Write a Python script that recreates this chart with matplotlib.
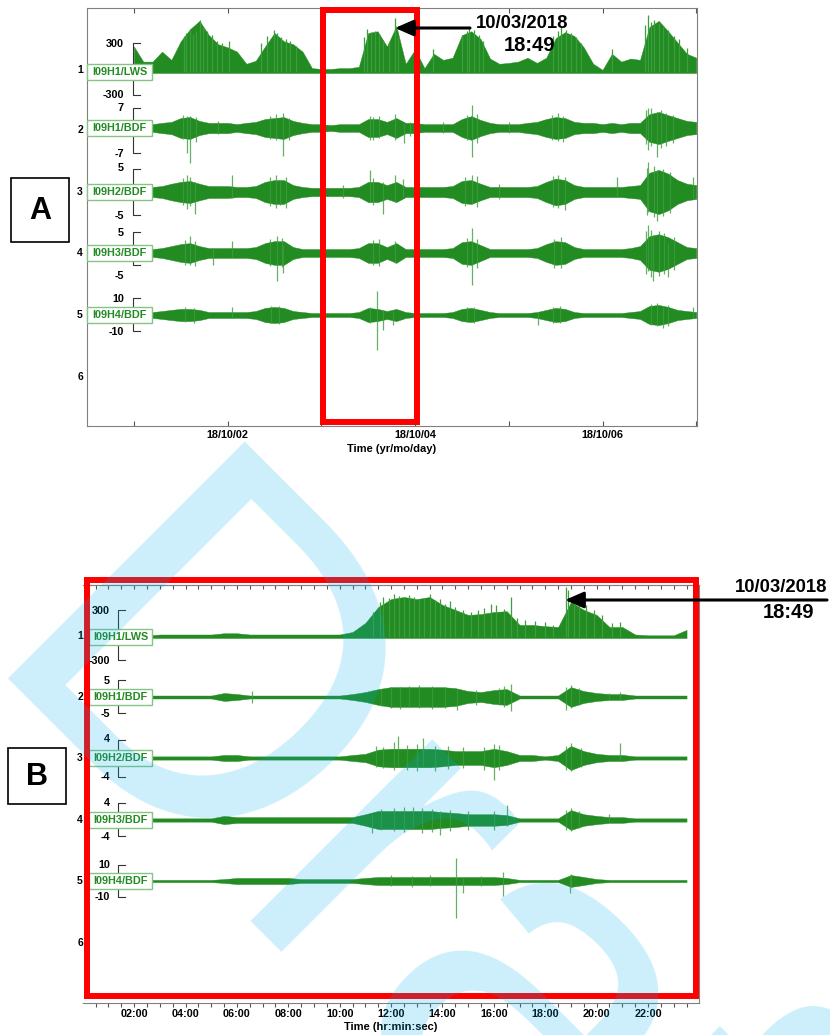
import numpy as np
import matplotlib
matplotlib.use("Agg")
import matplotlib.pyplot as plt
from matplotlib.patches import Rectangle

plt.rcParams['font.family'] = ['Liberation Sans', 'DejaVu Sans']

GREEN = '#228b22'
HAIR = '#3c9e3c'

# ---------------- panel A : days since 2018-10-01 00:00 ----------------
t_a = np.round(np.arange(0, 6.05, 0.1), 1)   # sampling grid of the envelopes

lws_a = [295, 120, 120, 235, 140, 355, 495, 590, 425, 320,
         285, 235, 95, 130, 295, 450, 355, 320, 235, 45,
         35, 35, 45, 45, 60, 450, 470, 295, 530, 95,
         260, 45, 210, 140, 165, 425, 470, 380, 155, 95,
         105, 120, 165, 105, 165, 390, 460, 415, 285, 95,
         25, 210, 120, 155, 140, 520, 590, 470, 340, 210, 165]
h1_a = [1.2, 1.2, 1.2, 1.6, 1.9, 3.1, 3.4, 2.2, 1.6, 1.6,
        1.6, 1.2, 1.6, 1.9, 2.8, 3.1, 3.4, 2.2, 1.6, 1.2,
        1.2, 0.9, 1.2, 1.2, 1.2, 2.8, 2.8, 1.9, 3.1, 1.6,
        1.6, 1.2, 1.2, 1.2, 1.2, 2.8, 3.7, 2.5, 1.6, 1.2,
        1.2, 1.2, 1.6, 1.9, 2.8, 3.4, 3.1, 1.9, 1.6, 1.6,
        1.2, 1.6, 1.2, 1.6, 1.6, 4.3, 5.0, 4.0, 3.1, 2.2, 1.9]
h2_a = [1.1, 1.1, 1.1, 1.3, 1.8, 2.2, 2.4, 1.8, 1.3, 1.3,
        1.3, 1.1, 1.1, 1.3, 2.2, 2.6, 2.6, 1.5, 1.1, 0.9,
        0.9, 0.9, 0.9, 0.9, 1.1, 2.2, 2.2, 1.5, 2.2, 1.1,
        1.1, 1.1, 1.1, 1.1, 1.3, 2.4, 2.6, 1.8, 1.1, 1.1,
        1.1, 1.1, 1.1, 1.3, 2.2, 2.9, 2.6, 1.5, 1.1, 1.1,
        1.1, 1.1, 1.1, 1.3, 1.5, 4.2, 4.8, 4.0, 2.6, 1.8, 1.5]
h3_a = [1.2, 1.2, 1.2, 1.5, 2.1, 2.7, 3.0, 2.1, 1.5, 1.5,
        1.5, 1.5, 1.5, 1.8, 3.0, 3.6, 3.6, 1.8, 1.2, 1.2,
        1.2, 1.2, 1.2, 1.2, 1.5, 3.0, 3.0, 1.8, 3.0, 1.2,
        1.2, 1.2, 1.2, 1.2, 1.5, 3.3, 3.6, 2.4, 1.2, 1.2,
        1.2, 1.2, 1.2, 1.5, 2.7, 3.6, 3.3, 1.8, 1.2, 1.2,
        1.2, 1.2, 1.2, 1.5, 2.1, 5.1, 5.7, 4.8, 3.3, 1.8, 1.5]
h4_a = [1.8, 1.8, 1.8, 2.4, 3.1, 3.7, 3.7, 3.1, 1.8, 1.8,
        1.8, 1.8, 1.8, 2.4, 4.3, 4.9, 4.3, 2.4, 1.8, 1.2,
        1.2, 1.2, 1.2, 1.2, 1.8, 4.3, 3.7, 2.4, 3.7, 1.8,
        1.2, 1.2, 1.2, 1.2, 1.8, 3.7, 4.3, 3.1, 1.8, 1.2,
        1.2, 1.2, 1.2, 1.8, 3.1, 4.3, 3.7, 1.8, 1.2, 1.2,
        1.2, 1.2, 1.2, 1.8, 2.4, 5.5, 6.1, 4.9, 3.1, 2.4, 1.8]

# spikes: (time, peak) for LWS, (time, up, down) for BDF
spk_lws_a = [(0.53, 410), (0.56, 450), (0.60, 495), (0.63, 435), (0.66, 470), (0.71, 600),
             (0.74, 520), (0.78, 470), (0.83, 425), (0.89, 355), (0.94, 330), (1.01, 355),
             (1.36, 330), (1.42, 410), (1.49, 480), (1.53, 450), (1.57, 400), (1.62, 380),
             (1.67, 355), (1.73, 300), (2.46, 400), (2.49, 500), (2.53, 460), (2.57, 470),
             (2.62, 430), (2.66, 360), (2.72, 330), (2.79, 625), (2.82, 400), (3.00, 270),
             (3.19, 260), (3.50, 430), (3.55, 470), (3.58, 510), (3.63, 480), (3.68, 430),
             (3.73, 360), (4.47, 420), (4.52, 470), (4.56, 530), (4.61, 490), (4.66, 450),
             (4.72, 400), (4.77, 330), (5.10, 260), (5.45, 540), (5.48, 660), (5.52, 580),
             (5.55, 600), (5.60, 560), (5.65, 520), (5.70, 480), (5.76, 410), (5.82, 380),
             (5.90, 280)]
spk_h1_a = [(0.52, 4.0, 3.4), (0.57, 3.7, 7.8), (0.60, 3.7, 10.9), (0.66, 3.4, 4.3),
            (0.90, 2.2, 1.9), (1.45, 3.7, 3.4), (1.52, 4.3, 3.7), (1.59, 4.6, 8.7),
            (1.66, 3.1, 3.7), (2.52, 3.7, 3.7), (2.55, 3.4, 3.7), (2.62, 3.7, 3.1),
            (2.79, 4.3, 3.7), (2.88, 1.6, 4.6), (2.95, 1.9, 2.5), (3.30, 1.9, 1.6),
            (3.55, 4.0, 3.7), (3.61, 7.1, 9.0), (3.66, 4.3, 4.6), (4.00, 1.9, 1.6),
            (4.46, 4.0, 3.7), (4.53, 4.6, 4.0), (4.58, 3.7, 4.3), (5.46, 5.6, 5.0),
            (5.49, 6.2, 6.8), (5.52, 6.2, 5.6), (5.58, 5.0, 9.0), (5.62, 5.6, 6.2),
            (5.68, 4.6, 5.6), (5.75, 4.0, 4.6)]
spk_h2_a = [(0.52, 3.1, 2.9), (0.57, 3.7, 3.7), (0.60, 3.3, 3.1), (0.65, 2.2, 4.8),
            (1.05, 3.7, 1.3), (1.45, 3.3, 3.1), (1.52, 3.7, 3.5), (1.56, 2.6, 2.9),
            (1.62, 3.3, 3.5), (2.23, 1.5, 1.3), (2.52, 4.8, 2.2), (2.55, 3.1, 2.9),
            (2.66, 2.2, 4.8), (2.79, 3.7, 2.2), (2.87, 2.9, 1.1), (3.53, 3.3, 3.1),
            (3.61, 3.7, 2.6), (3.66, 3.5, 3.3), (3.90, 1.8, 1.5), (4.47, 3.5, 3.3),
            (4.53, 3.7, 3.5), (4.60, 3.3, 4.0), (5.15, 3.3, 1.1), (5.47, 5.3, 5.1),
            (5.49, 6.6, 4.4), (5.55, 5.7, 5.5), (5.58, 4.8, 6.2), (5.65, 5.1, 5.3),
            (5.72, 4.4, 4.6), (5.96, 3.3, 1.5)]
spk_h3_a = [(0.55, 3.9, 3.6), (0.60, 5.1, 3.6), (0.65, 3.6, 3.9), (0.84, 1.5, 3.6),
            (1.05, 3.6, 1.2), (1.45, 4.2, 3.9), (1.53, 5.1, 8.4), (1.58, 4.5, 4.2),
            (1.59, 2.4, 6.0), (2.55, 3.9, 3.6), (2.62, 4.2, 3.9), (2.79, 3.6, 3.0),
            (3.55, 4.5, 4.2), (3.61, 7.5, 9.6), (3.66, 4.2, 4.5), (4.48, 4.2, 4.5),
            (4.56, 4.8, 4.5), (5.46, 6.6, 6.3), (5.49, 8.4, 5.4), (5.52, 6.9, 7.2),
            (5.54, 5.4, 8.4), (5.60, 6.6, 6.9), (5.66, 6.0, 6.3), (5.70, 3.0, 7.2),
            (5.76, 4.8, 5.1)]
spk_h4_a = [(0.55, 4.9, 4.3), (0.64, 4.3, 4.9), (1.05, 4.9, 1.8), (1.46, 5.5, 4.9),
            (1.55, 5.5, 5.5), (2.52, 4.9, 4.9), (2.59, 14.6, 21.4), (2.66, 3.0, 9.2),
            (2.76, 2.4, 6.1), (3.55, 4.9, 4.3), (3.63, 4.9, 4.9), (4.31, 1.8, 6.1),
            (4.47, 4.9, 4.9), (4.55, 5.5, 4.9), (5.52, 6.7, 6.1), (5.58, 7.3, 6.7),
            (5.64, 4.9, 7.9), (5.70, 6.1, 6.7), (5.96, 4.9, 1.8)]

# ---------------- panel B : hours of 10/03/2018 ----------------
t_b = np.arange(0.5, 23.75, 0.5)

lws_b = [20, 20, 20, 20, 20, 30, 30, 30, 30, 30,
         45, 45, 30, 30, 30, 30, 30, 30, 30, 30,
         60, 170, 360, 455, 480, 455, 480, 385, 325, 265,
         275, 300, 310, 145, 145, 130, 120, 420, 325, 265,
         120, 120, 30, 20, 20, 20, 85]
h1_b = [0.45, 0.45, 0.45, 0.45, 0.45, 0.45, 0.45, 0.45, 0.45, 0.45,
        1.2, 0.9, 0.45, 0.45, 0.45, 0.45, 0.45, 0.45, 0.45, 0.45,
        0.9, 1.5, 2.4, 3.0, 3.0, 3.0, 3.0, 3.0, 2.7, 1.8,
        1.5, 2.1, 2.4, 0.45, 0.45, 0.45, 0.45, 3.0, 1.8, 1.2,
        0.9, 0.9, 0.45, 0.45, 0.45, 0.45, 0.45]
h2_b = [0.35, 0.35, 0.35, 0.35, 0.35, 0.35, 0.35, 0.35, 0.35, 0.35,
        0.65, 0.65, 0.35, 0.35, 0.35, 0.35, 0.35, 0.35, 0.35, 0.35,
        0.65, 0.9, 1.8, 2.0, 2.0, 2.0, 2.0, 1.8, 1.5, 1.5,
        1.5, 2.0, 1.5, 0.65, 0.65, 0.35, 0.65, 2.6, 1.5, 0.9,
        0.65, 0.65, 0.35, 0.35, 0.35, 0.35, 0.35]
h3_b = [0.4, 0.4, 0.4, 0.4, 0.4, 0.4, 0.4, 0.4, 0.4, 0.4,
        1.0, 0.7, 0.7, 0.7, 0.7, 0.7, 0.7, 0.7, 0.7, 0.7,
        0.7, 1.4, 2.2, 2.2, 2.2, 2.2, 2.2, 1.9, 1.7, 1.4,
        1.4, 1.4, 1.2, 0.4, 0.4, 0.4, 0.4, 2.4, 1.4, 1.0,
        0.7, 0.7, 0.4, 0.4, 0.4, 0.4, 0.4]
h4_b = [0.7, 0.7, 0.7, 0.7, 0.7, 0.7, 0.7, 0.7, 0.7, 0.7,
        1.2, 1.9, 1.9, 1.9, 1.9, 1.9, 1.2, 1.2, 1.2, 1.2,
        1.2, 1.9, 2.5, 2.5, 2.5, 2.5, 2.5, 2.5, 2.5, 2.5,
        2.5, 2.5, 1.9, 0.7, 0.7, 0.7, 0.7, 3.7, 2.5, 1.2,
        0.7, 0.7, 0.7, 0.7, 0.7, 0.7, 0.7]

spk_lws_b = [(11.3, 300), (11.55, 420), (11.7, 480), (11.9, 470), (12.1, 515), (12.3, 490),
             (12.5, 470), (12.7, 500), (12.9, 480), (13.1, 450), (13.3, 470), (13.5, 515),
             (13.7, 440), (13.9, 455), (14.1, 400), (14.3, 430), (14.5, 360), (14.8, 320),
             (15.1, 300), (15.4, 330), (15.6, 350), (15.9, 400), (16.1, 380), (16.4, 340),
             (16.65, 480), (16.9, 230), (17.2, 200), (17.6, 190), (18.0, 180), (18.3, 150),
             (18.82, 600), (18.9, 560), (19.1, 480), (19.3, 420), (19.6, 380), (19.9, 330),
             (20.2, 260), (20.6, 170), (20.9, 180)]
spk_h1_b = [(6.6, 1.8, 1.8), (11.6, 2.4, 2.7), (12.0, 3.0, 3.3), (12.35, 3.0, 3.6),
            (12.7, 3.3, 3.0), (13.1, 3.6, 3.3), (13.6, 3.3, 3.6), (14.1, 3.0, 3.3),
            (14.57, 2.4, 3.9), (15.3, 2.1, 2.4), (16.2, 2.7, 2.4), (16.4, 3.3, 3.0),
            (16.65, 3.9, 4.2), (18.82, 3.0, 3.9), (19.0, 3.6, 3.3), (19.3, 2.7, 2.4),
            (20.5, 1.2, 0.6), (20.9, 1.5, 0.6)]
spk_h2_b = [(11.4, 2.6, 2.0), (11.7, 2.4, 2.2), (12.1, 3.5, 2.6), (12.25, 4.8, 2.0),
            (12.6, 2.9, 2.6), (13.0, 3.1, 2.9), (13.25, 4.4, 2.0), (13.7, 2.6, 2.9),
            (14.2, 2.6, 2.4), (14.8, 2.4, 2.2), (15.6, 2.4, 2.6), (16.0, 3.1, 4.8),
            (16.2, 2.9, 2.6), (18.8, 2.6, 2.6), (19.0, 3.3, 2.9), (19.4, 2.2, 2.0),
            (20.9, 3.3, 0.5)]
spk_h3_b = [(11.25, 1.5, 3.1), (11.6, 2.6, 2.4), (12.1, 2.9, 2.6), (12.5, 3.1, 2.9),
            (12.85, 3.1, 2.2), (13.2, 2.9, 3.1), (13.6, 2.6, 2.9), (13.9, 2.2, 3.6),
            (14.3, 2.4, 2.6), (15.0, 2.2, 2.4), (16.0, 2.2, 2.4), (16.5, 3.6, 1.5),
            (18.8, 2.4, 2.4), (19.0, 2.9, 2.6), (19.3, 2.2, 1.9), (20.5, 1.4, 0.5)]
spk_h4_b = [(12.0, 3.7, 3.1), (12.8, 3.1, 3.7), (13.5, 3.7, 3.1), (14.53, 14.3, 22.9),
            (14.8, 2.5, 7.4), (15.5, 3.1, 3.1), (16.35, 5.6, 9.3), (18.97, 3.7, 7.4),
            (19.0, 4.3, 3.7)]

channels = ['I09H1/LWS', 'I09H1/BDF', 'I09H2/BDF', 'I09H3/BDF', 'I09H4/BDF']
scales_a = [300, 7, 5, 5, 10]
scales_b = [300, 5, 4, 4, 10]
day_labels = ['', '18/10/02', '', '18/10/04', '', '18/10/06', '']
hour_ticks = np.arange(0.5, 24, 0.5)
hour_labels = ['%02d:00' % h if h % 2 == 0 and 2 <= h <= 22 else '' for h in hour_ticks]

# layout in figure pixels (y downwards)
bases_a = [72, 128, 192, 253, 315]
brk_a = [(43, 95), (108, 153), (169, 215), (232, 265), (298, 331)]
brk_lab_a = [(44, 95), (108, 154), (168, 216), (233, 276), (299, 332)]
num_y_a = [70, 130, 192, 253, 315, 377]
bases_b = [637, 697, 758, 820, 881]
brk_b = [(610, 660), (680, 713), (740, 777), (803, 836), (865, 897)]
brk_lab_b = [(611, 661), (681, 714), (739, 777), (803, 837), (865, 897)]
num_y_b = [636, 697, 758, 820, 881, 943]

W, H = 830, 1035
fig = plt.figure(figsize=(8.3, 10.35), dpi=100)


def px_axes(x0, y0, x1, y1):
    return fig.add_axes([x0 / W, 1 - y1 / H, (x1 - x0) / W, (y1 - y0) / H])


def draw_trace(ax, t, amp, spikes, base, k, one_sided=False):
    amp = np.asarray(amp)
    if one_sided:
        ax.fill_between(t, base + 1.0, base - amp * k, color=GREEN, lw=0.3)
        for st, v in spikes:
            ax.vlines(st, base, base - v * k, color=HAIR, lw=0.9)
    else:
        ax.fill_between(t, base + amp * k, base - amp * k, color=GREEN, lw=0.3)
        for st, up, dn in spikes:
            ax.vlines(st, base + dn * k, base - up * k, color=HAIR, lw=0.9, alpha=0.8)


# ---- panel A axes ----
axA = px_axes(87, 8.3, 697, 426)
axA.set_xlim(-0.5, 6.008)
axA.set_ylim(426, 8.3)
series_a = [(lws_a, spk_lws_a), (h1_a, spk_h1_a), (h2_a, spk_h2_a), (h3_a, spk_h3_a), (h4_a, spk_h4_a)]
for i, (amp, spk) in enumerate(series_a):
    k = (brk_a[i][1] - brk_a[i][0]) / (2 * scales_a[i])
    draw_trace(axA, t_a, amp, spk, bases_a[i], k, one_sided=(i == 0))
axA.set_yticks([])
axA.set_xticks(range(7))
axA.set_xticklabels(day_labels, fontsize=7.8, fontweight='bold')
axA.tick_params(axis='x', direction='in', top=True, length=3.6, width=0.8, color='#555555', pad=3)
axA.set_xlabel('Time (yr/mo/day)', fontsize=8, fontweight='bold', labelpad=3)
for s in axA.spines.values():
    s.set_color('#808080')
    s.set_linewidth(0.8)

# ---- panel B axes ----
axB = px_axes(82.8, 585, 699.4, 1003)
axB.set_xlim(0, 24)
axB.set_ylim(1003, 585)
series_b = [(lws_b, spk_lws_b), (h1_b, spk_h1_b), (h2_b, spk_h2_b), (h3_b, spk_h3_b), (h4_b, spk_h4_b)]
for i, (amp, spk) in enumerate(series_b):
    k = (brk_b[i][1] - brk_b[i][0]) / (2 * scales_b[i])
    draw_trace(axB, t_b, amp, spk, bases_b[i], k, one_sided=(i == 0))
axB.set_yticks([])
axB.set_xticks(hour_ticks)
axB.set_xticklabels(hour_labels, fontsize=7.8, fontweight='bold')
axB.tick_params(axis='x', direction='out', length=3, width=0.8, color='#555555', pad=1.5)
axB.set_xlabel('Time (hr:min:sec)', fontsize=8, fontweight='bold', labelpad=2)
secB = axB.secondary_xaxis('top')
secB.set_xticks(hour_ticks)
secB.set_xticklabels([])
secB.tick_params(direction='in', length=3, width=0.8, color='#555555')
for s in list(axB.spines.values()) + list(secB.spines.values()):
    s.set_color('#808080')
    s.set_linewidth(0.8)
axB.spines['left'].set_visible(False)

# ---- overlay for labels and annotations ----
ov = fig.add_axes([0, 0, 1, 1], zorder=10)
ov.set_xlim(0, W)
ov.set_ylim(H, 0)
ov.axis('off')
ov.patch.set_alpha(0)

panels = [
    (bases_a, brk_a, brk_lab_a, num_y_a, scales_a, 132.5, 124, 87),
    (bases_b, brk_b, brk_lab_b, num_y_b, scales_b, 117.5, 110, 89),
]
for bases, brk, brk_lab, num_y, scales, bx, lx, box_x in panels:
    for i in range(5):
        top, bot = brk[i]
        ov.plot([bx + 7.5, bx, bx, bx + 7.5], [top, top, bot, bot], color='#333333', lw=0.8)
        ov.text(lx, brk_lab[i][0], str(scales[i]), ha='right', va='center',
                fontsize=7.8, fontweight='bold')
        ov.text(lx, brk_lab[i][1], str(-scales[i]), ha='right', va='center',
                fontsize=7.8, fontweight='bold')
        ov.add_patch(Rectangle((box_x, bases[i] - 8), 152 - box_x, 16, fc='white',
                               ec='#86c486', lw=1.0, zorder=3))
        ov.text((box_x + 152) / 2, bases[i], channels[i], ha='center', va='center',
                fontsize=7.8, fontweight='bold', color=GREEN, zorder=4)
    for j, y in enumerate(num_y):
        ov.text(80, y, str(j + 1), ha='center', va='center', fontsize=7.5, fontweight='bold')

# red highlight boxes
ov.add_patch(Rectangle((323, 10), 94, 411.5, fill=False, ec='#ff0000', lw=4.3, zorder=5))
ov.add_patch(Rectangle((86.5, 579.5), 609.5, 416.5, fill=False, ec='#ff0000', lw=4.3, zorder=5))

# arrows and event time
arrow = dict(arrowstyle='-|>,head_length=0.8,head_width=0.35', color='black', lw=2.2,
             mutation_scale=14, shrinkA=0, shrinkB=0)
ov.annotate('', xy=(395, 28), xytext=(470, 28), arrowprops=arrow, zorder=6)
ov.annotate('', xy=(565, 600), xytext=(827, 600), arrowprops=arrow, zorder=6)
ov.text(522, 24, '10/03/2018', ha='center', va='center', fontsize=13.3, fontweight='bold')
ov.text(529, 45.5, '18:49', ha='center', va='center', fontsize=14.5, fontweight='bold')
ov.text(781, 587, '10/03/2018', ha='center', va='center', fontsize=13.3, fontweight='bold')
ov.text(788, 613, '18:49', ha='center', va='center', fontsize=14.5, fontweight='bold')

# panel letters
ov.add_patch(Rectangle((11, 178), 58, 64, fill=False, ec='black', lw=1.2))
ov.text(40, 211, 'A', ha='center', va='center', fontsize=22, fontweight='bold')
ov.add_patch(Rectangle((8, 748), 58, 56, fill=False, ec='black', lw=1.2))
ov.text(37, 777, 'B', ha='center', va='center', fontsize=22, fontweight='bold')

# watermark
ov.text(-33, 677, 'Draft', rotation=-45, rotation_mode='anchor', ha='left', va='baseline',
        fontsize=350, color='#00aeef', alpha=0.2, zorder=20)

fig.savefig('out.png', dpi=100)
